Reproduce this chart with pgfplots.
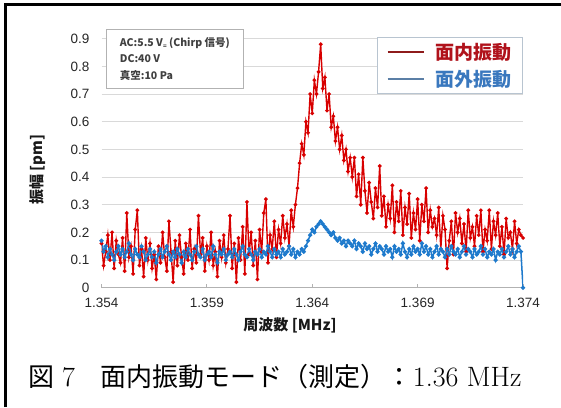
\documentclass[border=0pt]{standalone}
\usepackage{fontspec}
\newfontfamily\sans{Liberation Sans}
\newfontfamily\cjk{Noto Sans CJK JP}
\usepackage{pgfplots}
\pgfplotsset{compat=1.18}
\usepackage{pgfplotstable}

\definecolor{redline}{HTML}{D80000}
\definecolor{blueline}{HTML}{1E7ACC}
\definecolor{legred}{HTML}{B0121B}
\definecolor{legblue}{HTML}{3A78BE}
\definecolor{legredline}{HTML}{8E1B1B}
\definecolor{legblueline}{HTML}{5B7FA6}
\definecolor{gridgray}{HTML}{D9D9D9}
\definecolor{legframe}{HTML}{B8C4D0}

\pgfplotstableread{
f r b
1.3540 0.16 0.17
1.3541 0.08 0.13
1.3542 0.13 0.15
1.3543 0.19 0.11
1.3544 0.10 0.14
1.3545 0.20 0.12
1.3546 0.07 0.10
1.3547 0.17 0.13
1.3548 0.12 0.15
1.3549 0.09 0.12
1.3550 0.18 0.14
1.3551 0.06 0.11
1.3552 0.27 0.13
1.3553 0.11 0.16
1.3554 0.15 0.12
1.3555 0.05 0.10
1.3556 0.21 0.14
1.3557 0.28 0.12
1.3558 0.08 0.11
1.3559 0.14 0.15
1.3560 0.04 0.13
1.3561 0.18 0.10
1.3562 0.10 0.12
1.3563 0.16 0.14
1.3564 0.07 0.11
1.3565 0.12 0.13
1.3566 0.03 0.09
1.3567 0.15 0.12
1.3568 0.09 0.14
1.3569 0.20 0.11
1.3570 0.11 0.13
1.3571 0.06 0.15
1.3572 0.24 0.12
1.3573 0.13 0.10
1.3574 0.02 0.13
1.3575 0.17 0.11
1.3576 0.08 0.14
1.3577 0.19 0.12
1.3578 0.11 0.09
1.3579 0.05 0.13
1.3580 0.16 0.11
1.3581 0.10 0.14
1.3582 0.21 0.12
1.3583 0.07 0.10
1.3584 0.14 0.13
1.3585 0.09 0.15
1.3586 0.26 0.12
1.3587 0.12 0.11
1.3588 0.18 0.14
1.3589 0.06 0.10
1.3590 0.15 0.12
1.3591 0.10 0.13
1.3592 0.20 0.11
1.3593 0.08 0.15
1.3594 0.13 0.12
1.3595 0.04 0.09
1.3596 0.17 0.13
1.3597 0.11 0.12
1.3598 0.19 0.14
1.3599 0.09 0.10
1.3600 0.14 0.12
1.3601 0.26 0.13
1.3602 0.07 0.11
1.3603 0.16 0.14
1.3604 0.02 0.12
1.3605 0.18 0.10
1.3606 0.10 0.13
1.3607 0.22 0.15
1.3608 0.05 0.12
1.3609 0.31 0.11
1.3610 0.12 0.14
1.3611 0.20 0.12
1.3612 0.08 0.10
1.3613 0.17 0.13
1.3614 0.03 0.12
1.3615 0.21 0.14
1.3616 0.13 0.11
1.3617 0.27 0.13
1.3618 0.32 0.12
1.3619 0.09 0.15
1.3620 0.19 0.13
1.3621 0.14 0.11
1.3622 0.24 0.14
1.3623 0.11 0.12
1.3624 0.21 0.13
1.3625 0.16 0.11
1.3626 0.26 0.14
1.3627 0.18 0.12
1.3628 0.23 0.13
1.3629 0.15 0.15
1.3630 0.28 0.12
1.3631 0.22 0.14
1.3632 0.30 0.11
1.3633 0.36 0.13
1.3634 0.45 0.12
1.3635 0.52 0.14
1.3636 0.48 0.13
1.3637 0.60 0.15
1.3638 0.56 0.17
1.3639 0.70 0.19
1.3640 0.63 0.21
1.3641 0.75 0.20
1.3642 0.70 0.22
1.3643 0.78 0.23
1.3644 0.88 0.24
1.3645 0.72 0.23
1.3646 0.76 0.22
1.3647 0.64 0.21
1.3648 0.70 0.20
1.3649 0.58 0.19
1.3650 0.62 0.20
1.3651 0.53 0.18
1.3652 0.58 0.17
1.3653 0.50 0.18
1.3654 0.55 0.16
1.3655 0.46 0.17
1.3656 0.50 0.15
1.3657 0.42 0.17
1.3658 0.47 0.16
1.3659 0.40 0.15
1.3660 0.47 0.17
1.3661 0.33 0.14
1.3662 0.41 0.16
1.3663 0.30 0.15
1.3664 0.47 0.13
1.3665 0.35 0.16
1.3666 0.27 0.14
1.3667 0.38 0.15
1.3668 0.31 0.12
1.3669 0.25 0.14
1.3670 0.36 0.16
1.3671 0.29 0.13
1.3672 0.44 0.15
1.3673 0.26 0.14
1.3674 0.33 0.12
1.3675 0.22 0.15
1.3676 0.30 0.13
1.3677 0.25 0.14
1.3678 0.37 0.11
1.3679 0.20 0.15
1.3680 0.31 0.13
1.3681 0.24 0.14
1.3682 0.35 0.12
1.3683 0.19 0.16
1.3684 0.29 0.13
1.3685 0.23 0.11
1.3686 0.34 0.14
1.3687 0.18 0.12
1.3688 0.27 0.15
1.3689 0.21 0.13
1.3690 0.32 0.14
1.3691 0.17 0.12
1.3692 0.30 0.16
1.3693 0.24 0.13
1.3694 0.36 0.15
1.3695 0.20 0.12
1.3696 0.28 0.14
1.3697 0.22 0.11
1.3698 0.25 0.13
1.3699 0.19 0.15
1.3700 0.29 0.12
1.3701 0.14 0.14
1.3702 0.26 0.13
1.3703 0.21 0.11
1.3704 0.07 0.14
1.3705 0.17 0.12
1.3706 0.24 0.15
1.3707 0.12 0.13
1.3708 0.27 0.12
1.3709 0.20 0.14
1.3710 0.25 0.11
1.3711 0.16 0.13
1.3712 0.23 0.15
1.3713 0.13 0.12
1.3714 0.28 0.14
1.3715 0.18 0.13
1.3716 0.22 0.11
1.3717 0.15 0.14
1.3718 0.26 0.12
1.3719 0.19 0.13
1.3720 0.28 0.15
1.3721 0.13 0.12
1.3722 0.21 0.14
1.3723 0.17 0.11
1.3724 0.28 0.13
1.3725 0.14 0.12
1.3726 0.24 0.14
1.3727 0.19 0.10
1.3728 0.27 0.13
1.3729 0.15 0.12
1.3730 0.22 0.14
1.3731 0.12 0.11
1.3732 0.25 0.13
1.3733 0.18 0.15
1.3734 0.20 0.12
1.3735 0.14 0.14
1.3736 0.24 0.11
1.3737 0.16 0.13
1.3738 0.21 0.15
1.3739 0.19 0.13
1.3740 0.18 0.00
}\datatable

\begin{document}
\begin{tikzpicture}[x=1pt,y=1pt]
\path[use as bounding box] (0,0) rectangle (561,407);
\draw[line width=2.6pt] (5.3,0) -- (5.3,402.7) -- (561,402.7);
\begin{axis}[
  at={(101.5pt,119.3pt)}, anchor=south west,
  scale only axis, width=421.5pt, height=249pt,
  xmin=1.354, xmax=1.374, ymin=0, ymax=0.9,
  xtick={1.354,1.359,1.364,1.369,1.374},
  xticklabels={1.354,1.359,1.364,1.369,1.374},
  ytick={0,0.1,0.2,0.3,0.4,0.5,0.6,0.7,0.8,0.9},
  yticklabels={0,0.1,0.2,0.3,0.4,0.5,0.6,0.7,0.8,0.9},
  ymajorgrids, grid style={gridgray, line width=0.9pt},
  axis x line*=bottom, axis y line*=left,
  x axis line style={gray!60, line width=0.9pt, -},
  y axis line style={draw=none},
  tick align=inside, major tick length=4pt,
  xtick style={gray!60, line width=0.8pt},
  ytick style={draw=none},
  tick label style={font=\sans\fontsize{13.5}{16}\selectfont, text=black!85},
  /pgf/number format/assume math mode=true,
  yticklabel style={xshift=-8.5pt},
  xticklabel style={yshift=-7pt},
  xlabel={\cjk\bfseries 周波数 [MHz]},
  ylabel={\cjk\bfseries 振幅 [pm]},
  label style={font=\fontsize{15}{18}\selectfont, text=black!90},
  xlabel style={at={(axis description cs:0.447,-0.15)}, anchor=center},
  ylabel style={at={(axis description cs:-0.152,0.473)}, anchor=center},
  legend style={at={(axis description cs:1,1.007)}, anchor=north east,
    draw=legframe, line width=0.9pt, fill=white,
    font=\cjk\bfseries\fontsize{19}{22}\selectfont,
    inner xsep=9pt, inner ysep=4pt, row sep=5pt, column sep=9pt},
  legend cell align=left,
  legend image code/.code={\draw[#1] (0pt,0pt) -- (36pt,0pt);},
]
\addplot[redline, line width=1.4pt, mark=*, mark size=1.1pt, forget plot] table[x=f, y=r] {\datatable};
\addplot[blueline, line width=1.5pt, mark=*, mark size=1.3pt, forget plot] table[x=f, y=b] {\datatable};
\addlegendimage{legredline, line width=1.8pt}
\addlegendentry{\textcolor{legred}{面内振動}}
\addlegendimage{legblueline, line width=1.8pt}
\addlegendentry{\textcolor{legblue}{面外振動}}
\end{axis}
\node[draw=gray!60, line width=0.8pt, fill=white, anchor=north west,
  minimum width=137pt, minimum height=59pt, inner xsep=7pt, inner ysep=5pt,
  align=left, font=\cjk\bfseries\fontsize{10.5}{16.5}\selectfont, text=black!75]
  at (106,378)
  {AC:5.5 V\raisebox{-2pt}{\fontsize{6}{6}\selectfont =} (Chirp 信号)\\DC:40 V\\真空:10 Pa};
\node[anchor=base west, inner sep=0pt] at (28,21)
  {\fontsize{26}{30}\selectfont{\cjk 図} {\fontsize{28}{30}\selectfont 7}{\cjk 　面内振動モード（測定）：}\fontsize{28}{30}\selectfont 1.36 MHz};
\end{tikzpicture}
\end{document}
